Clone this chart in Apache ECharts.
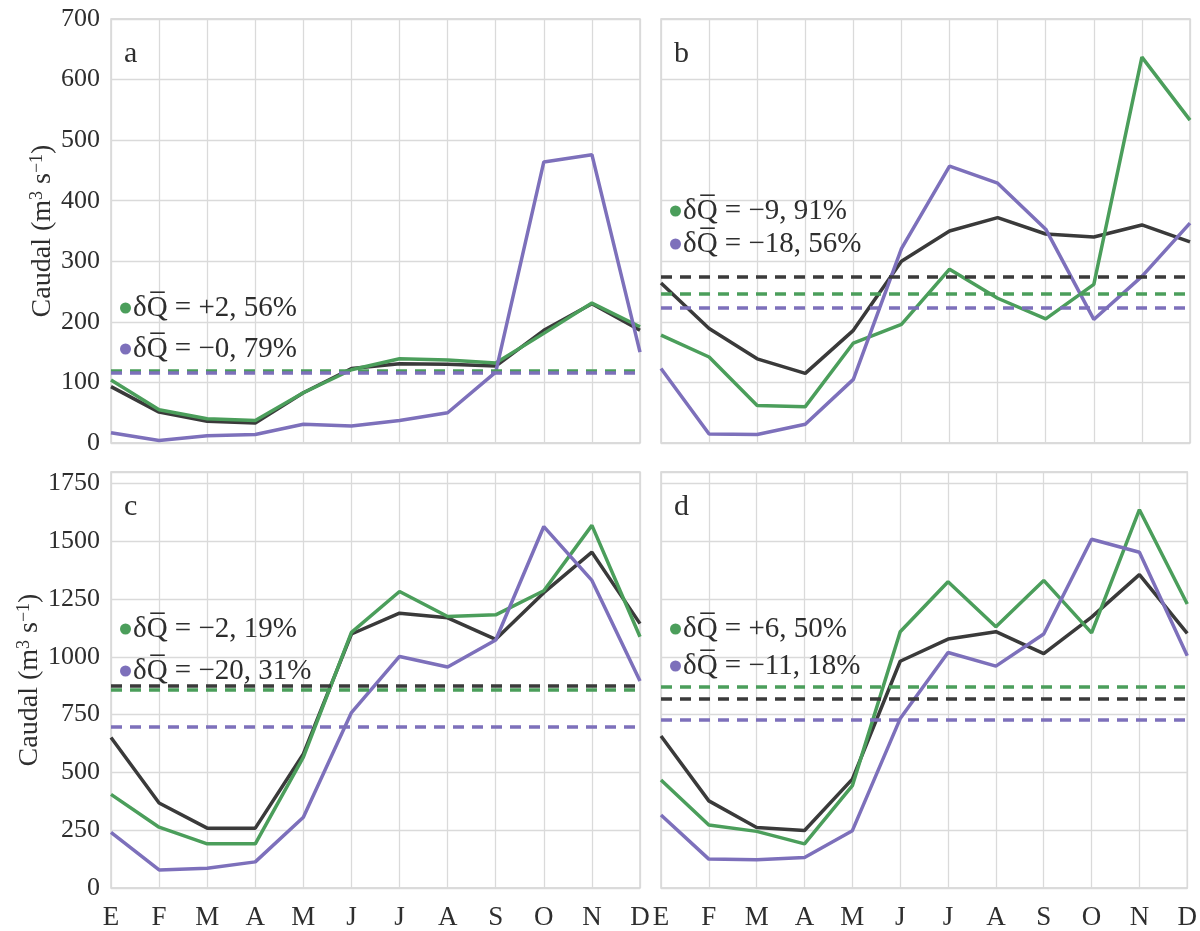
<!DOCTYPE html>
<html>
<head>
<meta charset="utf-8">
<script src="https://cdn.jsdelivr.net/npm/echarts@6/dist/echarts.min.js"></script>
<style>
html,body{margin:0;padding:0;background:#fff;}
#chart{width:1200px;height:931px;}
</style>
</head>
<body>
<div id="chart"></div>
<script>
// ---- data ----
const months = ['E','F','M','A','M','J','J','A','S','O','N','D'];
const panelLetters = ['a','b','c','d'];

const aObs    = [93, 51, 36, 33, 83, 123, 131, 130, 127, 186, 230, 186];
const aGreen  = [104, 55, 40, 37, 83, 121, 139, 137, 132, 181, 231, 192];
const aPurple = [17, 4, 12, 14, 31, 28, 37, 50, 117, 464, 476, 150];
const aMeans  = [117, 120, 116.5];

const bObs    = [264, 189, 139, 115, 186, 300, 350, 372, 345, 340, 360, 332];
const bGreen  = [178, 142, 62, 60, 165, 196, 287, 239, 205, 262, 637, 533];
const bPurple = [123, 15, 14, 31, 105, 321, 457, 429, 353, 204, 275, 363];
const bMeans  = [274, 247, 223];

const cObs    = [651, 368, 259, 259, 580, 1099, 1189, 1169, 1076, 1278, 1453, 1144];
const cGreen  = [405, 263, 191, 191, 566, 1106, 1283, 1175, 1182, 1286, 1569, 1087];
const cPurple = [241, 78, 85, 113, 306, 759, 1002, 956, 1073, 1564, 1331, 896];
const cMeans  = [877, 858, 699];

const dObs    = [658, 377, 262, 249, 471, 981, 1077, 1109, 1014, 1172, 1356, 1102];
const dGreen  = [467, 273, 245, 191, 443, 1109, 1325, 1130, 1331, 1104, 1637, 1229];
const dPurple = [316, 125, 122, 132, 248, 733, 1019, 960, 1099, 1509, 1453, 1005];
const dMeans  = [819, 872, 727];

const legendLabels = [
  ['δQ̅ = +2, 56%', 'δQ̅ = −0, 79%'],
  ['δQ̅ = −9, 91%', 'δQ̅ = −18, 56%'],
  ['δQ̅ = −2, 19%', 'δQ̅ = −20, 31%'],
  ['δQ̅ = +6, 50%', 'δQ̅ = −11, 18%']
];
const topTicksMax = 700, topTicksStep = 100;
const botTicksMax = 1800, botTicksStep = 250;
const yNameRich = 'Caudal (m{sup|3} s{sup|−1})';

// ---- styling ----
const FONT = 'Liberation Serif';
const TXT = '#2e2e2e';
const C_OBS = '#3a3a3a', C_G = '#4b9e5b', C_P = '#7d70bb';
const GRIDC = '#dadada';

const panels = [
  {obs: aObs, g: aGreen, p: aPurple, m: aMeans},
  {obs: bObs, g: bGreen, p: bPurple, m: bMeans},
  {obs: cObs, g: cGreen, p: cPurple, m: cMeans},
  {obs: dObs, g: dGreen, p: dPurple, m: dMeans}
];

const gridPos = [
  {left: 111, top: 19},
  {left: 661, top: 19},
  {left: 111, top: 472},
  {left: 661, top: 472}
];
const GW = 529, GH = 424;

const grids = gridPos.map(p => ({
  left: p.left, top: p.top, width: GW, height: GH,
  show: true, borderColor: '#cfcfcf', borderWidth: 1.3, backgroundColor: 'transparent'
}));

const xAxes = gridPos.map((p, i) => ({
  type: 'category', gridIndex: i, data: months, boundaryGap: false,
  axisLine: {show: false}, axisTick: {show: false},
  splitLine: {show: true, lineStyle: {color: GRIDC, width: 1.3}},
  axisLabel: {show: i >= 2, fontFamily: FONT, fontSize: 27, color: TXT, margin: 16, interval: 0}
}));

const yAxes = gridPos.map((p, i) => {
  const top = i < 2;
  return {
    type: 'value', gridIndex: i, min: 0,
    max: top ? topTicksMax : botTicksMax,
    interval: top ? topTicksStep : botTicksStep,
    axisLine: {show: false}, axisTick: {show: false},
    splitLine: {show: true, lineStyle: {color: GRIDC, width: 1.3}},
    axisLabel: {
      show: i % 2 === 0, fontFamily: FONT, fontSize: 26, color: TXT, margin: 11,
      formatter: v => (v % (top ? topTicksStep : botTicksStep) === 0 ? String(v) : '')
    },
    name: i % 2 === 0 ? yNameRich : '',
    nameLocation: 'middle', nameGap: 52, nameRotate: 90,
    nameTextStyle: {
      fontFamily: FONT, fontSize: 28, color: TXT, verticalAlign: 'bottom',
      rich: {
        sup: {fontFamily: FONT, fontSize: 18, color: TXT, verticalAlign: 'bottom', padding: [0, 0, 11, 0]}
      }
    }
  };
});

function meanLine(val, color) {
  return {
    silent: true, symbol: ['none', 'none'], label: {show: false},
    lineStyle: {type: [11, 8], width: 3.5, color: color, opacity: 1},
    data: [{yAxis: val}], animation: false
  };
}

const series = [];
panels.forEach((pn, i) => {
  series.push({
    name: 'obs ' + panelLetters[i], type: 'line', xAxisIndex: i, yAxisIndex: i,
    data: pn.obs, symbol: 'none', lineStyle: {color: C_OBS, width: 3.5}, itemStyle: {color: C_OBS},
    markLine: meanLine(pn.m[0], C_OBS), z: 2
  });
  series.push({
    name: legendLabels[i][0], type: 'line', xAxisIndex: i, yAxisIndex: i,
    data: pn.g, symbol: 'none', lineStyle: {color: C_G, width: 3.5}, itemStyle: {color: C_G},
    markLine: meanLine(pn.m[1], C_G), z: 3
  });
  series.push({
    name: legendLabels[i][1], type: 'line', xAxisIndex: i, yAxisIndex: i,
    data: pn.p, symbol: 'none', lineStyle: {color: C_P, width: 3.5}, itemStyle: {color: C_P},
    markLine: meanLine(pn.m[2], C_P), z: 4
  });
});

const legendTops = [288, 191, 609, 609];
const legendGaps = [11, 3, 12, 7];
const legends = gridPos.map((p, i) => ({
  data: legendLabels[i], orient: 'vertical',
  left: p.left + 4, top: legendTops[i], itemGap: legendGaps[i],
  icon: 'circle', itemWidth: 11, itemHeight: 11,
  selectedMode: false,
  textStyle: {fontFamily: FONT, fontSize: 29, color: TXT, lineHeight: 30, padding: [0, 0, 0, -3]}
}));

const graphics = gridPos.map((p, i) => ({
  type: 'text', left: p.left + 13, top: p.top + 20,
  style: {text: panelLetters[i], font: '30px "' + FONT + '"', fill: TXT}
}));

const chart = echarts.init(document.getElementById('chart'), null, {renderer: 'canvas'});
chart.setOption({
  animation: false,
  backgroundColor: '#ffffff',
  grid: grids, xAxis: xAxes, yAxis: yAxes, series: series,
  legend: legends, graphic: graphics
});
</script>
</body>
</html>
